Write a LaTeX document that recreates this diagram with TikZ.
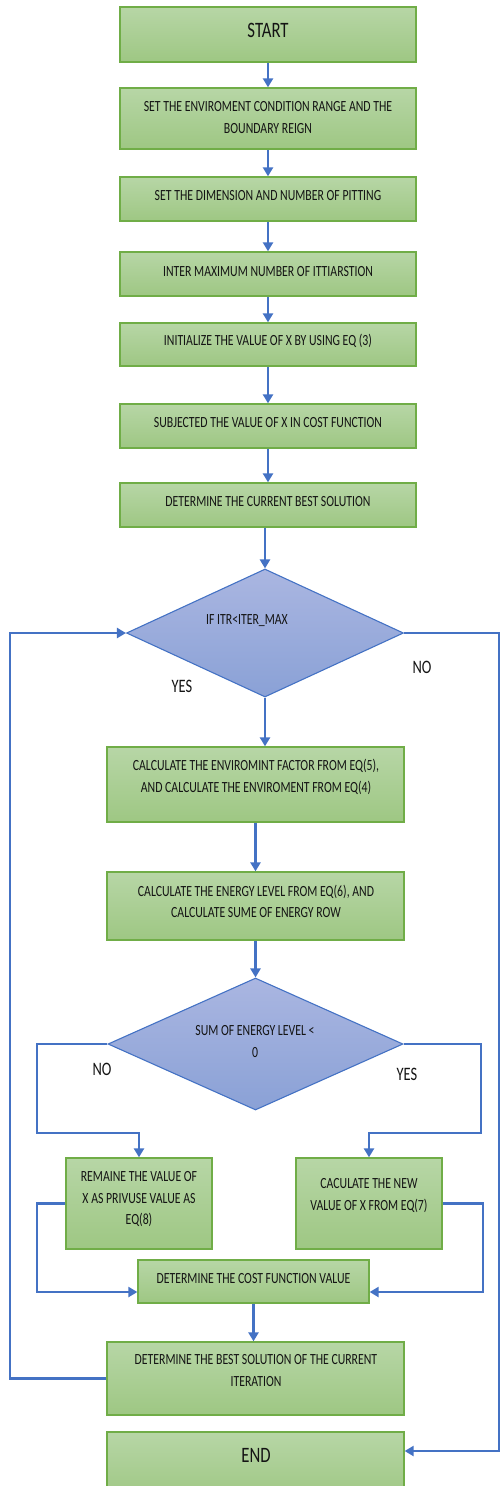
\documentclass[tikz,border=0pt]{standalone}
\usepackage{fontspec}
\setmainfont{Carlito}[FakeStretch=0.76]
\usetikzlibrary{shapes.geometric,arrows.meta,fit}
\definecolor{gtop}{RGB}{183,214,166}
\definecolor{gbot}{RGB}{158,199,131}
\definecolor{gline}{RGB}{112,173,71}
\definecolor{dtop}{RGB}{170,182,225}
\definecolor{dbot}{RGB}{138,161,214}
\definecolor{dline}{RGB}{68,114,196}
\definecolor{ink}{RGB}{20,20,20}
\tikzset{
  box/.style={draw=gline, line width=1.3pt, top color=gtop, bottom color=gbot, inner sep=0pt, rectangle},
  dia/.style={diamond, draw=dline, line width=1.1pt, top color=dtop, bottom color=dbot, inner sep=0pt},
  txt/.style={text=ink, align=center, font=\fontsize{15.5}{21.5}\selectfont, inner sep=0pt},
  big/.style={text=ink, font=\fontsize{22}{24}\selectfont, inner sep=0pt},
  lab/.style={text=ink, font=\fontsize{19}{20}\selectfont, inner sep=0pt},
  arr/.style={draw=dline, line width=2.4pt, -{Triangle[length=9pt,width=10pt]}},
}
\begin{document}
\begin{tikzpicture}[x=1pt,y=-1pt]
\clip (0,0) rectangle (500,1486);
\useasboundingbox (0,0) rectangle (500,1486);
% boxes
\node[box, fit={(120,7)(416,62)}] (start) {};
\node[box, fit={(120,88)(416,149)}] (b2) {};
\node[box, fit={(120,177)(416,221)}] (b3) {};
\node[box, fit={(120,252)(416,296)}] (b4) {};
\node[box, fit={(120,323)(416,366)}] (b5) {};
\node[box, fit={(120,404)(416,448)}] (b6) {};
\node[box, fit={(120,483)(416,527)}] (b7) {};
\node[dia, minimum width=277pt, minimum height=128pt] (d1) at (265,633) {};
\node[box, fit={(107,747)(404,822)}] (b8) {};
\node[box, fit={(107,872)(404,940)}] (b9) {};
\node[dia, minimum width=295pt, minimum height=132pt] (d2) at (255.5,1044) {};
\node[box, fit={(66,1158)(212,1249)}] (bL) {};
\node[box, fit={(296,1158)(442,1249)}] (bR) {};
\node[box, fit={(138,1260)(369,1303)}] (cost) {};
\node[box, fit={(107,1342)(404,1415)}] (best) {};
\node[box, fit={(107,1432)(404,1500)}] (end) {};
% texts
\node[big] (tstart) at (268,30) {START};
\node[txt] (t2) at (268,117.5) {SET THE ENVIROMENT CONDITION RANGE AND THE\\BOUNDARY REIGN};
\node[txt] (t3) at (268,196) {SET THE DIMENSION AND NUMBER OF PITTING};
\node[txt] (t4) at (268,272) {INTER MAXIMUM NUMBER OF ITTIARSTION};
\node[txt] (t5) at (268,341) {INITIALIZE THE VALUE OF X BY USING EQ (3)};
\node[txt] (t6) at (268,423) {SUBJECTED THE VALUE OF X IN COST FUNCTION};
\node[txt] (t7) at (268,502) {DETERMINE THE CURRENT BEST SOLUTION};
\node[txt] (td1) at (247,621) {IF ITR<ITER\_MAX};
\node[txt] (t8) at (256,777) {CALCULATE THE ENVIROMINT FACTOR FROM EQ(5),\\AND CALCULATE THE ENVIROMENT FROM EQ(4)};
\node[txt] (t9) at (256,901.5) {CALCULATE THE ENERGY LEVEL FROM EQ(6), AND\\CALCULATE SUME OF ENERGY ROW};
\node[txt] (td2) at (255,1041.5) {SUM OF ENERGY LEVEL <\\0};
\node[txt] (tL) at (139,1199.5) {REMAINE THE VALUE OF\\X AS PRIVUSE VALUE AS\\EQ(8)};
\node[txt] (tR) at (369,1195.5) {CACULATE THE NEW\\VALUE OF X FROM EQ(7)};
\node[txt] (tc) at (253.5,1279) {DETERMINE THE COST FUNCTION VALUE};
\node[txt] (tb) at (256,1370.5) {DETERMINE THE BEST SOLUTION OF THE CURRENT\\ITERATION};
\node[big] (tend) at (256,1455) {END};
% labels
\node[lab] (yes1) at (182,686) {YES};
\node[lab] (no1) at (422,667) {NO};
\node[lab] (no2) at (102,1069) {NO};
\node[lab] (yes2) at (407,1074) {YES};
% connectors
\draw[arr] (start) -- (b2);
\draw[arr] (b2) -- (b3);
\draw[arr] (b3) -- (b4);
\draw[arr] (b4) -- (b5);
\draw[arr] (b5) -- (b6);
\draw[arr] (b6) -- (b7);
\draw[arr] (b7.south -| d1.north) -- (d1.north);
\draw[arr] (d1.south) -- (d1.south |- b8.north);
\draw[arr] (b8) -- (b9);
\draw[arr] (b9.south -| d2.north) -- (d2.north);
\draw[arr] (d2.west) -- (37,1044) -- (37,1133) -- (139,1133) -- (bL.north);
\draw[arr] (d2.east) -- (481,1044) -- (481,1133) -- (369,1133) -- (bR.north);
\draw[arr] (bL.west) -- (37,1203.5) -- (37,1292) -- (cost.west |- 0,1292);
\draw[arr] (bR.east) -- (483,1203.5) -- (483,1292) -- (cost.east |- 0,1292);
\draw[arr] (cost) -- (cost |- best.north);
\draw[arr] (best.west) -- (10,1378.5) -- (10,633) -- (d1.west);
\draw[arr] (d1.east) -- (499,633) -- (499,1451) -- (end.east |- 0,1451);
\end{tikzpicture}
\end{document}
